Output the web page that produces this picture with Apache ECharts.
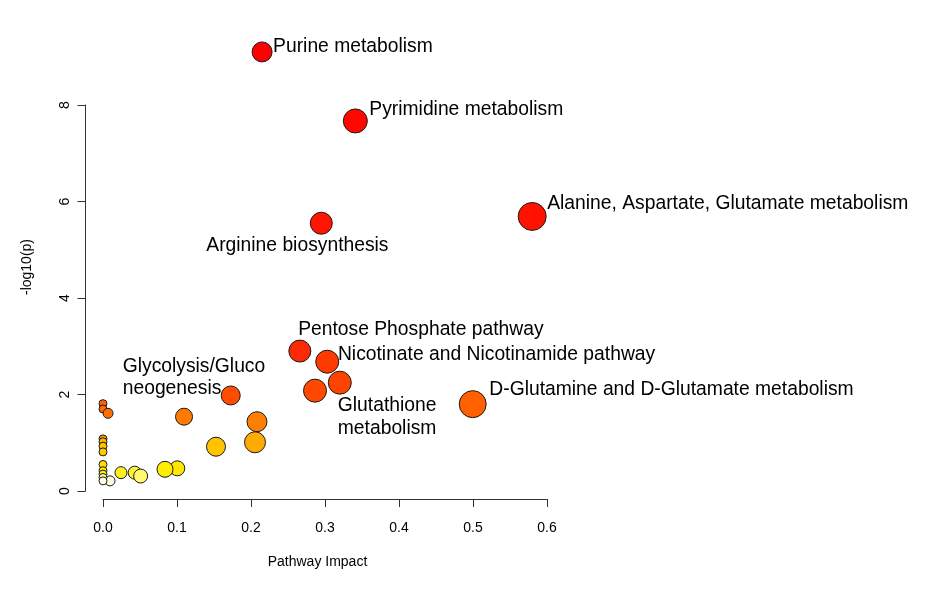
<!DOCTYPE html>
<html>
<head>
<meta charset="utf-8">
<script src="https://cdn.jsdelivr.net/npm/echarts@6/dist/echarts.min.js"></script>
<style>
  html, body { margin: 0; padding: 0; background: #fff; }
  #chart { width: 936px; height: 604px; }
</style>
</head>
<body>
<div id="chart"></div>
<script>
// ---- Data ----
const pathwayLabels = [
  "Purine metabolism",
  "Pyrimidine metabolism",
  "Alanine, Aspartate, Glutamate metabolism",
  "Arginine biosynthesis",
  "Pentose Phosphate pathway",
  "Nicotinate and Nicotinamide pathway",
  "Glutathione\nmetabolism",
  "",
  "D-Glutamine and D-Glutamate metabolism",
  "Glycolysis/Gluco\nneogenesis",
  "", "", "", "", "", "", "", "", "", "",
  "", "", "", "", "", "", "", "", "", "", "", ""
];
const pathwayImpact = [
  0.215, 0.341, 0.580, 0.295, 0.266, 0.303, 0.320, 0.2865, 0.4996, 0.1726,
  0.1095, 0.2081, 0.2054, 0.1527, 0.1004, 0.0838, 0.0428, 0.0509, 0.0243, 0.0095,
  0, 0, 0.0068, 0, 0, 0, 0, 0, 0, 0, 0, 0
];
const negLog10P = [
  9.10, 7.67, 5.69, 5.55, 2.90, 2.68, 2.245, 2.08, 1.80, 1.98,
  1.54, 1.436, 1.01, 0.918, 0.47, 0.45, 0.38, 0.31, 0.38, 0.21,
  1.81, 1.70, 1.61, 1.08, 1.02, 0.93, 0.81, 0.55, 0.42, 0.35, 0.28, 0.21
];
const xTickValues = [0, 0.1, 0.2, 0.3, 0.4, 0.5, 0.6];
const yTickValues = [0, 2, 4, 6, 8];

// ---- Styles (kept apart from the data) ----
const pointDiameter = [
  20, 24, 28, 22, 22, 23, 23, 23, 27, 19,
  17, 20, 21, 19, 15, 16, 13, 14, 12, 10,
  8, 8, 10, 8, 8, 8, 8, 8, 8, 8, 8, 8
];
const pointColor = [
  "#FF0000", "#FF0800", "#FF1200", "#FF1500", "#FA2A05", "#FF3A00", "#FF4400", "#FF4800", "#FF6000", "#FF4C00",
  "#FF7A00", "#FF8000", "#FFAA00", "#FFC400", "#FFE800", "#FFEE00", "#FFF030", "#FFFA70", "#FFF020", "#FFFBE0",
  "#FF6400", "#FF6A00", "#FF7000", "#F0A800", "#FFB800", "#FFC000", "#FFCC00", "#FFDD00", "#FFF000", "#FFF500", "#FFFA90", "#FFFDE8"
];
// label placement: [dx, dy] from the point centre, left-aligned text
const labelOffset = {
  0: [11, -5.5],
  1: [14, -11],
  2: [15, -13],
  3: [-115, 22],
  4: [-1.7, -21.5],
  5: [10.7, -7],
  6: [-2, 34.5],
  8: [16.6, -14],
  9: [-108, -18]
};

const FONT = "'Liberation Sans', Arial, Helvetica, sans-serif";

const seriesData = pathwayImpact.map((x, i) => {
  const item = {
    value: [x, negLog10P[i]],
    symbolSize: pointDiameter[i],
    itemStyle: { color: pointColor[i] }
  };
  if (pathwayLabels[i]) {
    item.label = {
      show: true,
      formatter: pathwayLabels[i],
      position: 'inside',
      align: 'left',
      verticalAlign: 'middle',
      offset: labelOffset[i],
      color: '#000',
      fontSize: 19.3,
      lineHeight: 22.5,
      fontFamily: FONT,
      textBorderWidth: 0
    };
  }
  return item;
});

const chart = echarts.init(document.getElementById('chart'), null, { renderer: 'canvas' });
chart.setOption({
  backgroundColor: '#fff',
  animation: false,
  grid: { left: 103, top: 105, width: 444, height: 386, containLabel: false },
  xAxis: {
    type: 'value',
    min: xTickValues[0],
    max: xTickValues[xTickValues.length - 1],
    interval: 0.1,
    offset: 8,
    name: 'Pathway Impact',
    nameLocation: 'middle',
    nameGap: 56,
    nameMoveOverlap: false,
    nameTextStyle: { fontSize: 14, color: '#000', fontFamily: FONT, padding: [0, 15, 0, 0] },
    axisLine: { show: true, onZero: false, lineStyle: { color: '#333', width: 1 } },
    axisTick: { show: true, length: 8, lineStyle: { color: '#333' } },
    axisLabel: { fontSize: 14, color: '#000', fontFamily: FONT, margin: 22,
      formatter: v => v.toFixed(1) },
    splitLine: { show: false }
  },
  yAxis: {
    type: 'value',
    min: yTickValues[0],
    max: yTickValues[yTickValues.length - 1],
    interval: 2,
    offset: 17.5,
    name: '-log10(p)',
    nameLocation: 'middle',
    nameGap: 51,
    nameRotate: 90,
    nameMoveOverlap: false,
    nameTextStyle: { fontSize: 14, color: '#000', fontFamily: FONT, padding: [0, 0, 0, 62] },
    axisLine: { show: true, onZero: false, lineStyle: { color: '#333', width: 1 } },
    axisTick: { show: true, length: 8, lineStyle: { color: '#333' } },
    axisLabel: { fontSize: 14, color: '#000', fontFamily: FONT, margin: 13, rotate: 90 },
    splitLine: { show: false }
  },
  series: [{
    type: 'scatter',
    clip: false,
    symbol: 'circle',
    data: seriesData,
    itemStyle: { borderColor: '#1a1a1a', borderWidth: 1, opacity: 1 },
    emphasis: { disabled: true }
  }]
});
</script>
</body>
</html>
